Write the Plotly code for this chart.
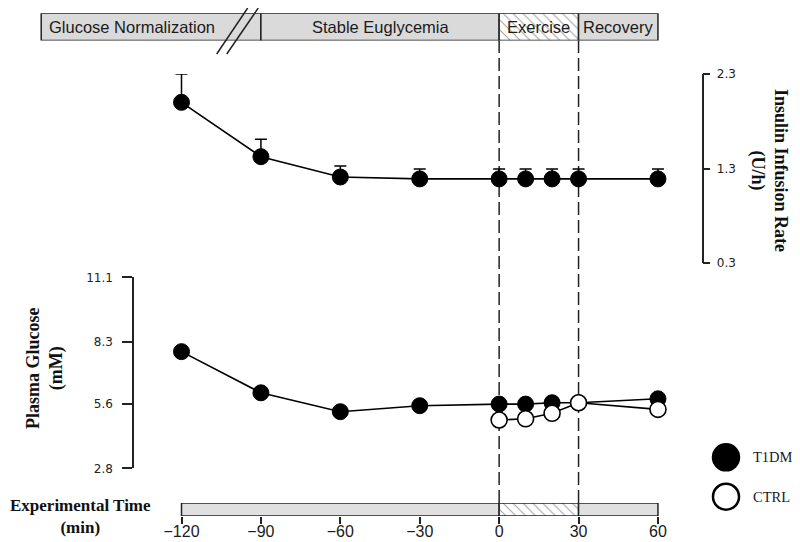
import plotly.graph_objects as go

# ---------------- data ----------------
time_t1dm = [-120, -90, -60, -30, 0, 10, 20, 30, 60]
insulin_t1dm = [2.00, 1.425, 1.21, 1.19, 1.19, 1.19, 1.19, 1.19, 1.19]
insulin_t1dm_se = [0.30, 0.184, 0.116, 0.106, 0.106, 0.106, 0.106, 0.106, 0.106]
glucose_t1dm = [7.87, 6.08, 5.26, 5.52, 5.59, 5.59, 5.65, 5.65, 5.82]

time_ctrl = [0, 10, 20, 30, 60]
glucose_ctrl = [4.90, 4.95, 5.19, 5.65, 5.36]

series_names = ["T1DM", "CTRL"]

x_ticks = [-120, -90, -60, -30, 0, 30, 60]
glucose_ticks = [2.8, 5.6, 8.3, 11.1]
insulin_ticks = [0.3, 1.3, 2.3]

phase_names = ["Glucose Normalization", "Stable Euglycemia", "Exercise", "Recovery"]
phase_edges = [-173, -90, 0, 30, 60]
phase_label_x = [-138.7, -45, 15, 45]
phase_hatched = [False, False, True, False]

timeline_edges = [-120, 0, 30, 60]
timeline_hatched = [False, True, False]

exercise_bounds = [0, 30]

# ---------------- layout helpers ----------------
# the page body has an 8px default margin: the figure is drawn 8px in from the window corner
OFF = 8
W, H = 800 - OFF, 542 - OFF
def pyp(p):  # window pixel row -> paper y
    return 1 - (p - OFF) / H
def pxp(p):  # window pixel col -> paper x
    return (p - OFF) / W

PX_PER_MIN = 2.647
X_AT_M120 = 181.5
X_RANGE = [-120 + (OFF - X_AT_M120) / PX_PER_MIN, -120 + (800 - X_AT_M120) / PX_PER_MIN]
GRAY = "#dadada"
LINE = "#222222"

fig = go.Figure()

# phase banner (top)
starts = phase_edges[:-1]
lengths = [b - a for a, b in zip(phase_edges[:-1], phase_edges[1:])]
fig.add_trace(go.Bar(
    orientation="h", y=[0.5] * len(starts), x=lengths, base=starts, width=1,
    xaxis="x", yaxis="y3",
    marker=dict(color=["white" if h else GRAY for h in phase_hatched],
                line=dict(color=LINE, width=1.5),
                pattern=dict(shape=["\\" if h else "" for h in phase_hatched],
                             fgcolor="#cfcfcf", size=7, solidity=0.15, fillmode="overlay")),
    hoverinfo="skip", showlegend=False))

# timeline bar (bottom)
t_starts = timeline_edges[:-1]
t_lengths = [b - a for a, b in zip(timeline_edges[:-1], timeline_edges[1:])]
fig.add_trace(go.Bar(
    orientation="h", y=[0.5] * len(t_starts), x=t_lengths, base=t_starts, width=1,
    xaxis="x", yaxis="y4",
    marker=dict(color=["white" if h else "#e0e0e0" for h in timeline_hatched],
                line=dict(color=LINE, width=1.5),
                pattern=dict(shape=["\\" if h else "" for h in timeline_hatched],
                             fgcolor="#cfcfcf", size=7, solidity=0.15, fillmode="overlay")),
    hoverinfo="skip", showlegend=False))

# insulin (upper panel)
fig.add_trace(go.Scatter(
    x=time_t1dm, y=insulin_t1dm, xaxis="x", yaxis="y2", mode="lines+markers",
    name=series_names[0], cliponaxis=False,
    line=dict(color="black", width=1.6),
    marker=dict(size=16, color="black", line=dict(color="black", width=1)),
    error_y=dict(type="data", array=insulin_t1dm_se, arrayminus=[0] * len(insulin_t1dm_se),
                 symmetric=False, color="black", thickness=1.5, width=6),
    showlegend=False))

# glucose (lower panel)
fig.add_trace(go.Scatter(
    x=time_t1dm, y=glucose_t1dm, xaxis="x", yaxis="y", mode="lines+markers",
    name=series_names[0], cliponaxis=False,
    line=dict(color="black", width=1.6),
    marker=dict(size=16, color="black", line=dict(color="black", width=1)),
    showlegend=False))
fig.add_trace(go.Scatter(
    x=time_ctrl, y=glucose_ctrl, xaxis="x", yaxis="y", mode="lines+markers",
    name=series_names[1], cliponaxis=False,
    line=dict(color="black", width=1.6),
    marker=dict(size=16, color="white", line=dict(color="black", width=1.6)),
    showlegend=False))

shapes = []
# dashed exercise boundaries
for xb in exercise_bounds:
    shapes.append(dict(type="line", xref="x", yref="paper", x0=xb, x1=xb,
                       y0=pyp(503), y1=pyp(40.5), layer="below",
                       line=dict(color=LINE, width=1.5, dash="13px,5px")))
# axis-break slashes in banner
for xa, xb in [(-106.7, -95.0), (-102.9, -91.0)]:
    shapes.append(dict(type="line", xref="x", yref="paper", x0=xa, x1=xb,
                       y0=pyp(54), y1=pyp(OFF), line=dict(color=LINE, width=1.5)))
# legend circles
for (cy, fillc) in [(457.3, "black"), (496.7, "white")]:
    shapes.append(dict(type="circle", xref="paper", yref="paper",
                       x0=pxp(713), x1=pxp(739), y0=pyp(cy + 13), y1=pyp(cy - 13),
                       fillcolor=fillc, line=dict(color="black", width=2.5)))

annotations = []
for name, lx in zip(phase_names, phase_label_x):
    annotations.append(dict(text=name, xref="x", yref="paper", x=lx, y=pyp(27),
                            showarrow=False, xanchor="center", yanchor="middle",
                            font=dict(family="Liberation Sans", size=16.5, color="#1a1a1a")))
for name, cy in zip(series_names, [457.3, 496.7]):
    annotations.append(dict(text=name, xref="paper", yref="paper", x=pxp(751), y=pyp(cy),
                            showarrow=False, xanchor="left", yanchor="middle",
                            font=dict(family="Liberation Serif", size=14.5, color="#1a1a1a")))
title_font = dict(family="Liberation Serif", size=18, color="#111111", weight="bold")
annotations.append(dict(text="Plasma Glucose<br>(mM)", xref="paper", yref="paper",
                        x=pxp(45), y=pyp(368), textangle=-90, showarrow=False,
                        xanchor="center", yanchor="middle", font=title_font))
annotations.append(dict(text="Insulin Infusion Rate<br>(U/h)", xref="paper", yref="paper",
                        x=pxp(769), y=pyp(170), textangle=90, showarrow=False,
                        xanchor="center", yanchor="middle", font=title_font))
annotations.append(dict(text="Experimental Time<br>(min)", xref="paper", yref="paper",
                        x=pxp(80), y=pyp(516), showarrow=False,
                        xanchor="center", yanchor="middle",
                        font=dict(family="Liberation Serif", size=17, color="#111111",
                                  weight="bold")))

tick_font = dict(family="DejaVu Sans", size=12, color="#222222")

fig.update_layout(
    width=W, height=H, autosize=False,
    margin=dict(l=0, r=0, t=0, b=0, pad=0, autoexpand=False),
    paper_bgcolor="white", plot_bgcolor="rgba(0,0,0,0)",
    barmode="overlay",
    xaxis=dict(domain=[0, 1], range=X_RANGE, anchor="free", position=pyp(516),
               tickvals=x_ticks, ticks="outside", ticklen=7, tickwidth=1.5, tickcolor=LINE,
               showline=False, showgrid=False, zeroline=False, automargin=False,
               ticklabelstandoff=-6,
               tickfont=dict(family="Liberation Sans", size=16, color="#1a1a1a")),
    yaxis=dict(domain=[pyp(468.3), pyp(277.3)], range=[2.8, 11.1], anchor="free",
               position=pxp(133), side="left", tickvals=glucose_ticks,
               ticktext=[f"{v:.1f}" for v in glucose_ticks],
               ticks="outside", ticklen=10, tickwidth=1.5, tickcolor=LINE,
               showline=True, linewidth=1.5, linecolor=LINE, automargin=False,
               showgrid=False, zeroline=False, tickfont=tick_font, ticklabelstandoff=7),
    yaxis2=dict(domain=[pyp(263), pyp(74)], range=[0.3, 2.3], anchor="free",
                position=pxp(702.7), side="right", tickvals=insulin_ticks,
                ticktext=[f"{v:.1f}" for v in insulin_ticks],
                ticks="outside", ticklen=7, tickwidth=1.5, tickcolor=LINE,
                showline=True, linewidth=1.5, linecolor=LINE, automargin=False,
                showgrid=False, zeroline=False, tickfont=tick_font, ticklabelstandoff=4),
    yaxis3=dict(domain=[pyp(40.5), pyp(13.3)], range=[0, 1], anchor="free", position=0,
                visible=False, fixedrange=True, automargin=False),
    yaxis4=dict(domain=[pyp(516), pyp(503)], range=[0, 1], anchor="free", position=0,
                visible=False, fixedrange=True, automargin=False),
    shapes=shapes, annotations=annotations,
)

fig.write_html("out.html")
